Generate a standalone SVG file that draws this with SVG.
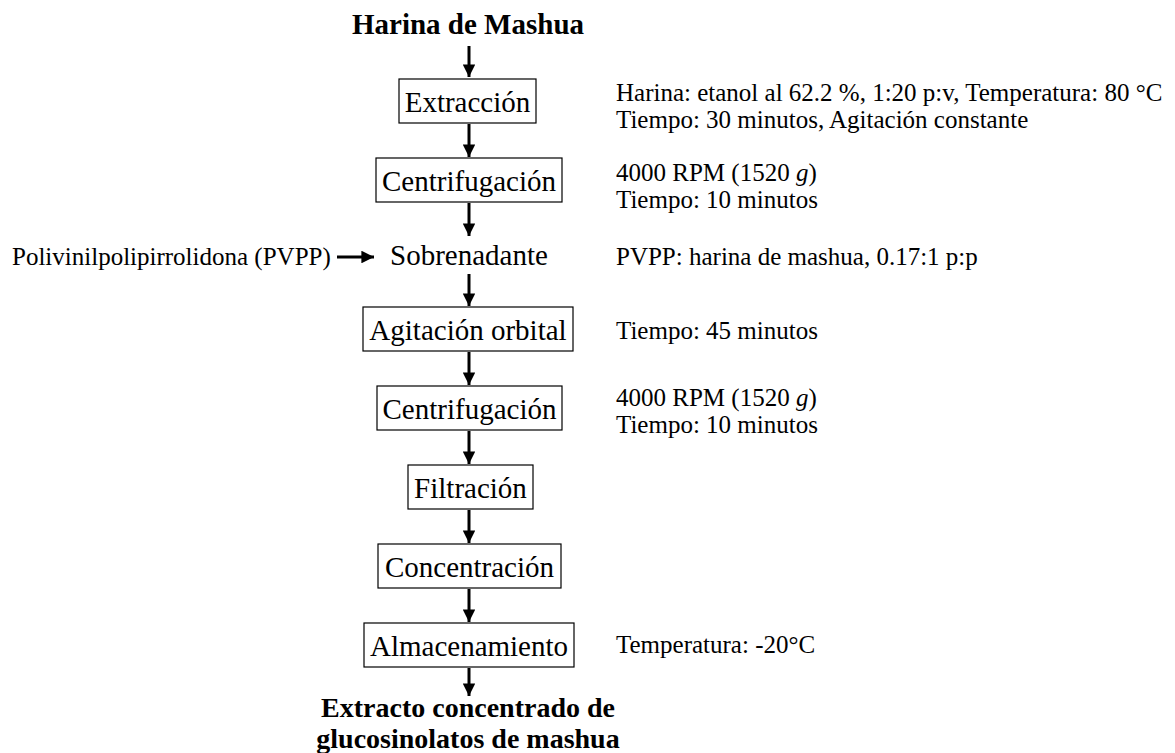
<svg xmlns="http://www.w3.org/2000/svg" width="1175" height="753" viewBox="0 0 1175 753">
<defs>
<marker id="ah" viewBox="0 0 10 10" refX="10" refY="5" markerWidth="4.2" markerHeight="4.2" orient="auto" markerUnits="strokeWidth">
<path d="M0,0 L10,5 L0,10 z" fill="#000"/>
</marker>
</defs>
<style>
.box{fill:#fff;stroke:#000;stroke-width:1.2}
.t{font-family:"Liberation Serif","Times New Roman",serif;font-size:29px;fill:#000;text-anchor:middle}
.b{font-family:"Liberation Serif","Times New Roman",serif;font-size:29px;font-weight:bold;fill:#000;text-anchor:middle}
.e{font-size:28px}
.n{font-family:"Liberation Serif","Times New Roman",serif;font-size:25px;fill:#000}
.a{stroke:#000;stroke-width:3;fill:none;marker-end:url(#ah)}
</style>
<rect width="1175" height="753" fill="#fff"/>
<g id="title"><text class="b" x="468" y="34">Harina de Mashua</text></g>
<g id="extraccion"><rect class="box" x="399" y="79" width="137" height="44"/><text class="t" x="467.5" y="112">Extracción</text></g>
<g id="centrifugacion1"><rect class="box" x="376" y="158" width="186" height="44"/><text class="t" x="469" y="191">Centrifugación</text></g>
<g id="sobrenadante"><text class="t" x="469" y="265">Sobrenadante</text></g>
<g id="pvpp"><text class="n" x="12" y="265">Polivinilpolipirrolidona (PVPP)</text></g>
<g id="agitacion"><rect class="box" x="363" y="307" width="210" height="44"/><text class="t" x="468" y="340">Agitación orbital</text></g>
<g id="centrifugacion2"><rect class="box" x="377" y="386" width="185" height="44"/><text class="t" x="469.5" y="419">Centrifugación</text></g>
<g id="filtracion"><rect class="box" x="408" y="465" width="125" height="44"/><text class="t" x="470.5" y="498">Filtración</text></g>
<g id="concentracion"><rect class="box" x="378" y="544" width="183" height="44"/><text class="t" x="469.5" y="577">Concentración</text></g>
<g id="almacenamiento"><rect class="box" x="364" y="623" width="210" height="44"/><text class="t" x="469" y="656">Almacenamiento</text></g>
<g id="producto"><text class="b e" x="468" y="717">Extracto concentrado de</text><text class="b e" x="468" y="748">glucosinolatos de mashua</text></g>
<g id="notes">
<text class="n" x="616" y="101">Harina: etanol al 62.2 %, 1:20 p:v, Temperatura: 80 °C</text>
<text class="n" x="616" y="128">Tiempo: 30 minutos, Agitación constante</text>
<text class="n" x="616" y="181">4000 RPM (1520 <tspan font-style="italic">g</tspan>)</text>
<text class="n" x="616" y="208">Tiempo: 10 minutos</text>
<text class="n" x="616" y="265">PVPP: harina de mashua, 0.17:1 p:p</text>
<text class="n" x="616" y="339">Tiempo: 45 minutos</text>
<text class="n" x="616" y="406">4000 RPM (1520 <tspan font-style="italic">g</tspan>)</text>
<text class="n" x="616" y="433">Tiempo: 10 minutos</text>
<text class="n" x="616" y="653">Temperatura: -20°C</text>
</g>
<g id="connectors">
<line class="a" x1="469" y1="46" x2="469" y2="77"/>
<line class="a" x1="469" y1="124" x2="469" y2="157"/>
<line class="a" x1="469" y1="203" x2="469" y2="236"/>
<line class="a" x1="469" y1="274" x2="469" y2="306"/>
<line class="a" x1="469" y1="352" x2="469" y2="385"/>
<line class="a" x1="469" y1="431" x2="469" y2="464"/>
<line class="a" x1="469" y1="510" x2="469" y2="543"/>
<line class="a" x1="469" y1="589" x2="469" y2="622"/>
<line class="a" x1="469" y1="668" x2="469" y2="696"/>
<line class="a" x1="337" y1="257" x2="374" y2="257"/>
</g>
</svg>
